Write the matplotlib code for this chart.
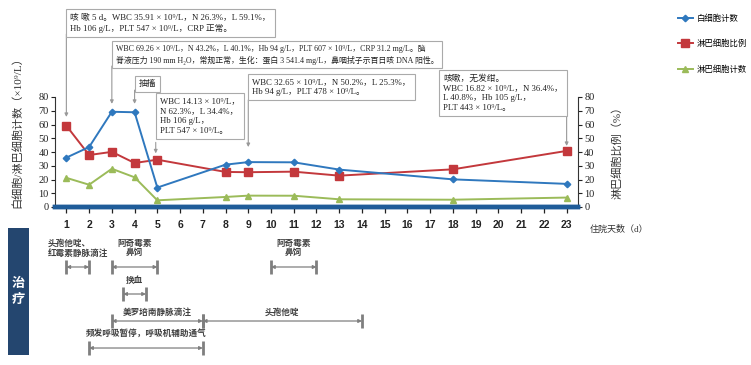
import matplotlib
matplotlib.use('Agg')
import matplotlib.pyplot as plt

plt.rcParams['font.family'] = ['Liberation Serif', 'Noto Sans CJK SC', 'DejaVu Sans']

# data
days = [1, 2, 3, 4, 5, 8, 9, 11, 13, 18, 23]
wbc = [35.91, 43.6, 69.26, 68.9, 14.13, 30.8, 32.65, 32.5, 27.2, 20.1, 16.82]
lym_pct = [59.1, 37.8, 40.1, 32.0, 34.4, 25.5, 25.3, 25.7, 22.8, 27.4, 40.8]
lym_cnt = [21.2, 16.2, 27.8, 21.6, 4.86, 7.3, 8.26, 8.2, 5.6, 5.3, 6.86]
day_ticks = list(range(1, 24))

# notes: (day of arrow, box anchor day, box top value, box bottom value, arrow tip value, text, align, size)
notes = [
    (1, 1.0, 144, 125.8, 65.5,
     '咳 嗽 5 d。WBC 35.91 × 10⁹/L，N 26.3%，L 59.1%，\nHb 106 g/L，PLT 547 × 10⁹/L，CRP 正常。', 'left', 6.3),
    (3, 3.0, 121, 102.5, 75,
     'WBC 69.26 × 10⁹/L，N 43.2%，L 40.1%，Hb 94 g/L，PLT 607 × 10⁹/L，CRP 31.2 mg/L。脑\n'
     '脊液压力 190 mm H₂O，常规正常，生化：蛋白 3 541.4 mg/L，鼻咽拭子示百日咳 DNA 阳性。', 'left', 5.7),
    (4, 4.0, 95.5, 85, 75, '抽搐', 'left', 6.3),
    (4.93, 4.93, 83, 47, 39,
     'WBC 14.13 × 10⁹/L，\nN 62.3%，L 34.4%，\nHb 106 g/L，\nPLT 547 × 10⁹/L。', 'left', 6.3),
    (9, 9.0, 97, 77.8, 43.6,
     'WBC 32.65 × 10⁹/L，N 50.2%，L 25.3%，\nHb 94 g/L，PLT 478 × 10⁹/L。', 'left', 6.3),
    (23, 23.0, 100, 66.9, 44.4,
     '咳嗽，无发绀。\nWBC 16.82 × 10⁹/L，N 36.4%，\nL 40.8%，Hb 105 g/L，\nPLT 443 × 10⁹/L。', 'right', 6.3),
]

# treatments: label, start day, end day, row, label offset (rows)
treat_labels = ['头孢他啶、\n红霉素静脉滴注', '阿奇霉素\n鼻饲', '阿奇霉素\n鼻饲', '换血',
                '美罗培南静脉滴注', '头孢他啶', '频发呼吸暂停，呼吸机辅助通气']
treat_start = [1, 3, 10, 3.5, 3, 7, 2]
treat_end = [2, 5, 12, 4.5, 7, 14, 7]
treat_row = [0, 0, 0, 1, 2, 2, 3]
treat_lab_dy = [-0.70, -0.70, -0.70, -0.52, -0.33, -0.33, -0.56]

blue = '#2f78be'
red = '#c3383c'
green = '#9bbb59'
navy = '#1f5c99'
gray = '#7f7f7f'

fig = plt.figure(figsize=(7.51, 3.65), dpi=100)
ax = fig.add_axes([55 / 751, 1 - 207 / 365, 523 / 751, 110 / 365])
ax2 = ax.twinx()

l1, = ax.plot(days, wbc, color=blue, lw=1.4, marker='D', ms=3.3, label='白细胞计数', zorder=3)
l2, = ax2.plot(days, lym_pct, color=red, lw=1.4, marker='s', ms=5.5, label='淋巴细胞比例', zorder=3)
l3, = ax.plot(days, lym_cnt, color=green, lw=1.4, marker='^', ms=5, label='淋巴细胞计数', zorder=3)

for a in (ax, ax2):
    a.set_xlim(0.5, 23.5)
    a.set_ylim(0, 80)
    a.set_yticks(range(0, 81, 10))
    a.spines['top'].set_visible(False)
    a.spines['bottom'].set_color(navy)
    a.spines['bottom'].set_linewidth(3.2)
    a.tick_params(axis='y', labelsize=7.5, length=3, width=0.8, pad=1.5, colors='#222222')
ax.spines['right'].set_visible(False)
ax2.spines['left'].set_visible(False)
ax.spines['left'].set_color('#333333')
ax2.spines['right'].set_color('#333333')
ax.set_xticks(day_ticks)
ax.set_xticklabels([str(d) for d in day_ticks], fontsize=7.5, fontweight='bold',
                   family=['Liberation Sans', 'DejaVu Sans'], color='#222222')
ax.tick_params(axis='x', length=4, width=0.9, pad=5, colors='#222222')
ax.set_zorder(ax2.get_zorder() + 1)
ax.patch.set_visible(False)

ax.text(24.0, -16.5, '住院天数（d）', fontsize=6.5, ha='left', va='center',
        family=['Liberation Serif', 'Noto Sans CJK SC'], color='#333333', clip_on=False)

fig.text(17 / 751, 1 - 130 / 365, '白细胞/淋巴细胞计数（×10⁹/L）', rotation=90, ha='center',
         va='center', fontsize=8, color='#333333')
fig.text(617 / 751, 1 - 150 / 365, '淋巴细胞比例（%）', rotation=90, ha='center',
         va='center', fontsize=8, color='#333333')

# annotation boxes and arrows
for d_arrow, d_box, top, bottom, tip, txt, al, fs in notes:
    ax.annotate('', xy=(d_arrow, tip), xytext=(d_arrow, bottom), annotation_clip=False,
                arrowprops=dict(arrowstyle='-|>', color='#999999', lw=0.8,
                                mutation_scale=5, shrinkA=0, shrinkB=0))
    off = 0.17 if al == 'left' else -0.17
    ax.text(d_box + off, top - 3.2, txt, ha=al, va='top', fontsize=fs, color='#222222',
            linespacing=1.3, clip_on=False, multialignment='left',
            bbox=dict(boxstyle='square,pad=0.45', fc='white', ec='#aaaaaa', lw=0.8))

fig.legend(handles=[l1, l2, l3], loc='upper left', bbox_to_anchor=(670 / 751, 1 - 6 / 365),
           frameon=False, handlelength=1.8, handletextpad=0.5, labelspacing=2.0,
           prop={'family': ['Noto Sans CJK SC'], 'size': 6})

# treatment panel
axt = fig.add_axes([55 / 751, 1 - 360 / 365, 523 / 751, 132 / 365])
axt.set_xlim(0.5, 23.5)
axt.set_ylim(3.444, -1.444)
axt.axis('off')
for lab, s, e, r, dy in zip(treat_labels, treat_start, treat_end, treat_row, treat_lab_dy):
    axt.annotate('', xy=(s, r), xytext=(e, r),
                 arrowprops=dict(arrowstyle='<|-|>', color=gray, lw=0.9, mutation_scale=5,
                                 shrinkA=0, shrinkB=0))
    axt.vlines([s, e], r - 0.25, r + 0.25, color=gray, lw=2)
    axt.text((s + e) / 2, r + dy, lab, ha='center', va='center', fontsize=6.2,
             family=['Noto Sans CJK SC'], fontweight='bold', color='#404040', linespacing=1.1,
             multialignment='left' if s == 1 else 'center')

# "治疗" side block
fig.patches.append(plt.Rectangle((8 / 751, 1 - 355 / 365), 21 / 751, 127 / 365,
                                 transform=fig.transFigure, fc='#24466f', ec='none'))
fig.text(18.5 / 751, 1 - 291 / 365, '治\n疗', ha='center', va='center', fontsize=9.5,
         fontweight='bold', color='white', family=['Noto Sans CJK SC'], linespacing=1.1)

fig.savefig('out.png', dpi=100)
